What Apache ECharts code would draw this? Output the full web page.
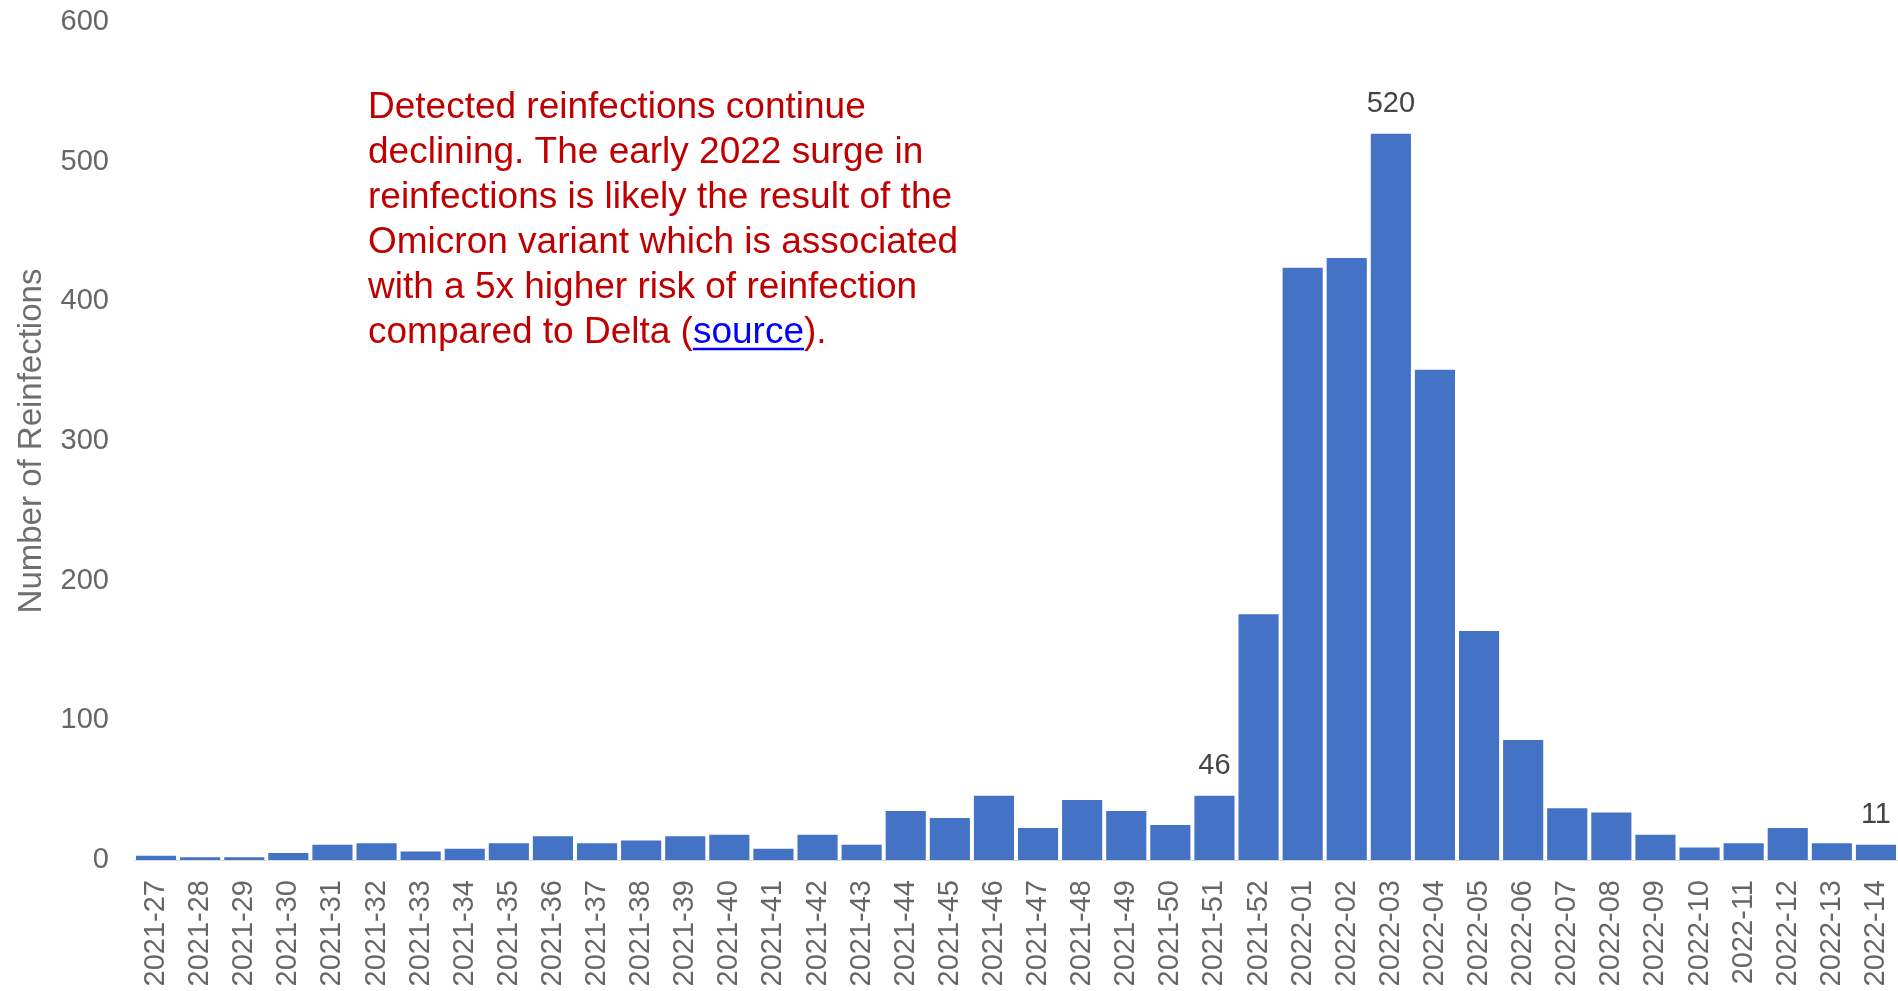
<!DOCTYPE html>
<html>
<head>
<meta charset="utf-8">
<script src="https://cdn.jsdelivr.net/npm/echarts@6/dist/echarts.min.js"></script>
<style>
html,body{margin:0;padding:0;background:#fff;}
#chart{width:1898px;height:991px;}
</style>
</head>
<body>
<div id="chart"></div>
<script>
// ---- data ----
const weeks = [
  '2021-27','2021-28','2021-29','2021-30','2021-31','2021-32','2021-33','2021-34','2021-35','2021-36',
  '2021-37','2021-38','2021-39','2021-40','2021-41','2021-42','2021-43','2021-44','2021-45','2021-46',
  '2021-47','2021-48','2021-49','2021-50','2021-51','2021-52','2022-01','2022-02','2022-03','2022-04',
  '2022-05','2022-06','2022-07','2022-08','2022-09','2022-10','2022-11','2022-12','2022-13','2022-14'
];
const reinfections = [
  3, 2, 2, 5, 11, 12, 6, 8, 12, 17,
  12, 14, 17, 18, 8, 18, 11, 35, 30, 46,
  23, 43, 35, 25, 46, 176, 424, 431, 520, 351,
  164, 86, 37, 34, 18, 9, 12, 23, 12, 11
];
const labeledWeeks = ['2021-51', '2022-03', '2022-14'];
const yMin = 0, yMax = 600, yInterval = 100;
const yAxisTitle = 'Number of Reinfections';
const noteLines = [
  'Detected reinfections continue',
  'declining. The early 2022 surge in',
  'reinfections is likely the result of the',
  'Omicron variant which is associated',
  'with a 5x higher risk of reinfection'
];
const noteLastPre = 'compared to Delta (';
const noteLink = 'source';
const noteLastPost = ').';

// ---- layout / style ----
const FONT = "'Liberation Sans', Arial, Helvetica, sans-serif";
const noteFontSize = 37, noteLineHeight = 45, noteLeft = 368, noteTop = 85;

const seriesData = reinfections.map((v, i) => {
  const item = { value: v };
  if (labeledWeeks.indexOf(weeks[i]) >= 0) item.label = { show: true };
  return item;
});

// measure text for link underline
const cv = document.createElement('canvas').getContext('2d');
cv.font = noteFontSize + 'px ' + FONT;
const preW = cv.measureText(noteLastPre).width;
const linkW = cv.measureText(noteLink).width;
const underlineY = noteTop + 5 * noteLineHeight + noteLineHeight / 2 + 16.5;

const noteText = noteLines.map(l => '{r|' + l + '}').join('\n') +
  '\n{r|' + noteLastPre + '}{b|' + noteLink + '}{r|' + noteLastPost + '}';

const chart = echarts.init(document.getElementById('chart'));
chart.setOption({
  animation: false,
  backgroundColor: '#ffffff',
  textStyle: { fontFamily: FONT },
  grid: { left: 134, right: 0, top: 22, bottom: 131, containLabel: false, outerBoundsMode: 'none' },
  xAxis: {
    type: 'category',
    data: weeks,
    axisLine: { show: true, lineStyle: { color: '#dcdcdc', width: 1 } },
    axisTick: { show: false },
    axisLabel: {
      interval: 0,
      rotate: 90,
      margin: 20,
      fontSize: 29,
      color: '#666666',
      fontFamily: FONT
    }
  },
  yAxis: {
    type: 'value',
    min: yMin,
    max: yMax,
    interval: yInterval,
    name: yAxisTitle,
    nameLocation: 'middle',
    nameGap: 86,
    nameTextStyle: { fontSize: 33, color: '#6e6e6e', fontFamily: FONT },
    axisLine: { show: false },
    axisTick: { show: false },
    splitLine: { show: false },
    axisLabel: { fontSize: 29, color: '#666666', margin: 25, fontFamily: FONT }
  },
  series: [{
    type: 'bar',
    data: seriesData,
    barCategoryGap: '9%',
    itemStyle: { color: '#4472C4' },
    label: {
      show: false,
      position: 'top',
      distance: 15,
      fontSize: 29,
      color: '#444444',
      fontFamily: FONT
    }
  }],
  graphic: [
    {
      type: 'text',
      left: noteLeft,
      top: noteTop,
      style: {
        text: noteText,
        font: noteFontSize + 'px ' + FONT,
        lineHeight: noteLineHeight,
        rich: {
          r: { fill: '#C00000', fontSize: noteFontSize, fontFamily: FONT, lineHeight: noteLineHeight },
          b: { fill: '#0000FF', fontSize: noteFontSize, fontFamily: FONT, lineHeight: noteLineHeight }
        }
      }
    },
    {
      type: 'line',
      shape: { x1: noteLeft + preW, y1: underlineY, x2: noteLeft + preW + linkW, y2: underlineY },
      style: { stroke: '#0000FF', lineWidth: 2.5 }
    }
  ]
});
</script>
</body>
</html>
